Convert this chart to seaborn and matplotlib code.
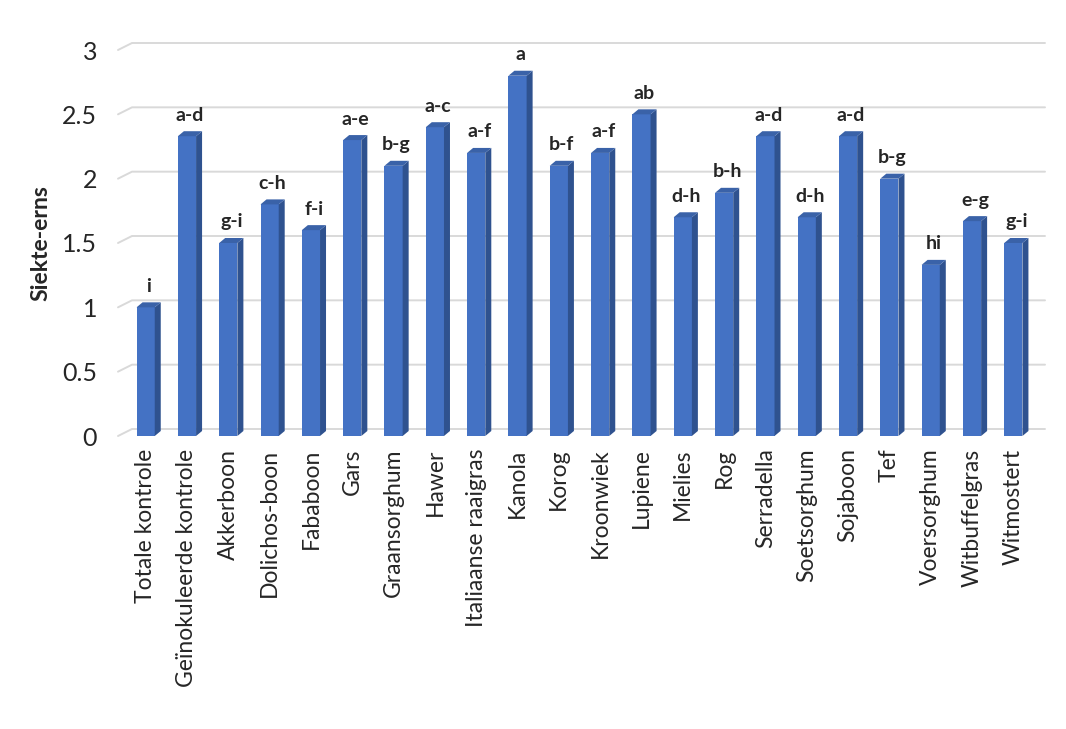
import matplotlib
matplotlib.use("Agg")
import matplotlib.pyplot as plt
import seaborn as sns
import pandas as pd
from matplotlib.patches import Polygon
from matplotlib.lines import Line2D

categories = ["Totale kontrole", "Geïnokuleerde kontrole", "Akkerboon", "Dolichos-boon",
              "Fababoon", "Gars", "Graansorghum", "Hawer", "Italiaanse raaigras", "Kanola",
              "Korog", "Kroonwiek", "Lupiene", "Mielies", "Rog", "Serradella", "Soetsorghum",
              "Sojaboon", "Tef", "Voersorghum", "Witbuffelgras", "Witmostert"]
values = [1.0, 2.33, 1.5, 1.8, 1.6, 2.3, 2.1, 2.4, 2.2, 2.8, 2.1, 2.2, 2.5, 1.7, 1.89,
          2.33, 1.7, 2.33, 2.0, 1.33, 1.67, 1.5]
letters = ["i", "a-d", "g-i", "c-h", "f-i", "a-e", "b-g", "a-c", "a-f", "a", "b-f", "a-f",
           "ab", "d-h", "b-h", "a-d", "d-h", "a-d", "b-g", "hi", "e-g", "g-i"]
yticks = [0, 0.5, 1, 1.5, 2, 2.5, 3]
ytick_labels = ["0", "0.5", "1", "1.5", "2", "2.5", "3"]

sns.set_style("white")
plt.rcParams['font.family'] = ['Lato', 'DejaVu Sans']

W, H = 1066, 729
fig = plt.figure(figsize=(W / 100, H / 100), dpi=100)
ax = fig.add_axes([125 / W, 1 - 436 / H, 909 / W, (436 - 50) / H])
ax.patch.set_visible(False)

df = pd.DataFrame({"cat": categories, "val": values})
sns.barplot(data=df, x="cat", y="val", color="#4472C4", width=0.44, ax=ax,
            saturation=1, edgecolor="none", zorder=3)
ax.set_ylim(0, 3)
ax.set_xlim(-0.5, len(categories) - 0.5)
ax.set_yticks(yticks)
ax.set_yticklabels(ytick_labels, fontsize=18)
ax.tick_params(axis="y", length=0, pad=20)
ax.tick_params(axis="x", length=0, pad=9)
ax.set_xticks(range(len(categories)))
ax.set_xticklabels(categories, rotation=90, fontsize=16.5)
ax.set_xlabel("")
ax.set_ylabel("Siekte-erns", fontsize=16.5, fontweight="bold", labelpad=8)
for s in ax.spines.values():
    s.set_visible(False)
ax.grid(False)

# 3D effect on bars
dx_px, dy_px = 6, 5
inv = ax.transData.inverted()
origin = ax.transData.transform((0, 0))
p0 = inv.transform(origin + [dx_px, dy_px])
ddx, ddy = p0[0], p0[1]
for p in list(ax.patches):
    x, y = p.get_x(), p.get_y()
    w, h = p.get_width(), p.get_height()
    side = Polygon([(x + w, y), (x + w + ddx, y + ddy), (x + w + ddx, y + h + ddy), (x + w, y + h)],
                   closed=True, facecolor="#2F528F", edgecolor="none", zorder=3)
    top = Polygon([(x, y + h), (x + ddx, y + h + ddy), (x + w + ddx, y + h + ddy), (x + w, y + h)],
                  closed=True, facecolor="#3A62A8", edgecolor="none", zorder=3)
    ax.add_patch(side)
    ax.add_patch(top)

# gridlines on the back wall plus slanted floor segments on the left
tf = fig.transFigure.inverted()
for t in yticks:
    _, ypx = ax.transData.transform((0, t))
    front = (118, ypx)
    back = (132, ypx + 7)
    right = (1045, ypx + 7)
    pts = tf.transform([front, back, right])
    fig.add_artist(Line2D(pts[:, 0], pts[:, 1], color="#D9D9D9", lw=1.4, zorder=-1))

for i, (v, lab) in enumerate(zip(values, letters)):
    ax.annotate(lab, (i + ddx / 2, v), xytext=(0, 9), textcoords="offset points",
                ha="center", va="bottom", fontsize=14, fontweight="bold")

fig.savefig("out.png", dpi=100)
